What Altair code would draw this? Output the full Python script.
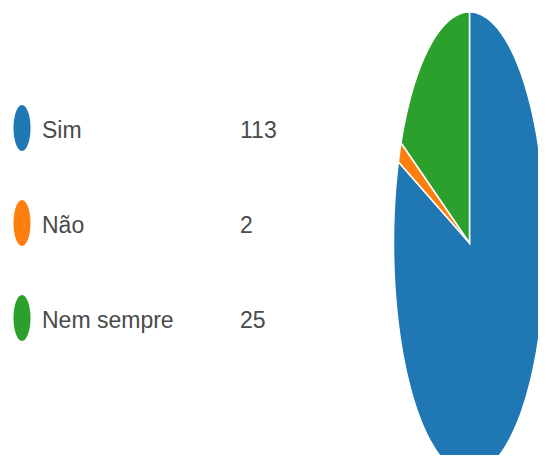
import altair as alt
import numpy as np
import pandas as pd

# ---- data ----
cats = ["Sim", "Não", "Nem sempre"]
vals = [113, 2, 25]
colors = ["#1f77b4", "#ff7f0e", "#2ca02c"]

# ---- pie slices as polygons (the picture is a horizontally squeezed pie) ----
total = float(sum(vals))
rows = []
start = 0.0
for c, v in zip(cats, vals):
    a0 = start / total * 2 * np.pi
    a1 = (start + v) / total * 2 * np.pi
    n = max(3, int(np.degrees(a1 - a0))) + 1
    rows.append(dict(cat=c, i=0, x=0.0, y=0.0))
    for k, t in enumerate(np.linspace(a0, a1, n)):
        rows.append(dict(cat=c, i=k + 1, x=float(np.sin(t)), y=float(np.cos(t))))
    start += v
pie_df = pd.DataFrame(rows)

leg_df = pd.DataFrame({"cat": cats, "val": [str(v) for v in vals]})

color_scale = alt.Scale(domain=cats, range=colors)
FONT = "Liberation Sans Narrow, Liberation Sans, Arial, sans-serif"

pie = alt.Chart(pie_df).mark_line(
    interpolate="linear-closed", filled=True, stroke="white", strokeWidth=1.5
).encode(
    x=alt.X("x:Q", scale=alt.Scale(domain=[-1, 1], range=[385.5, 537.5], nice=False, zero=False), axis=None),
    y=alt.Y("y:Q", scale=alt.Scale(domain=[-1, 1], range=[466, 4], nice=False, zero=False), axis=None),
    color=alt.Color("cat:N", scale=color_scale, legend=None),
    order="i:Q",
)

ypos = alt.Y("cat:N", scale=alt.Scale(domain=cats, range=[120, 310], padding=0), axis=None)

ellipse = "M0,-1A0.37,1 0 1,1 0,1A0.37,1 0 1,1 0,-1Z"
markers = alt.Chart(leg_df).mark_point(
    shape=ellipse, size=46 * 46, filled=True, opacity=1, strokeWidth=0
).encode(
    x=alt.value(14),
    y=ypos,
    color=alt.Color("cat:N", scale=color_scale, legend=None),
)

labels = alt.Chart(leg_df).mark_text(
    align="left", baseline="middle", font=FONT, fontSize=23, color="#4a4a4a", dy=3
).encode(x=alt.value(34), y=ypos, text="cat:N")

values = alt.Chart(leg_df).mark_text(
    align="left", baseline="middle", font=FONT, fontSize=23, color="#4a4a4a", dy=3
).encode(x=alt.value(232), y=ypos, text="val:N")

chart = alt.layer(pie, markers, labels, values).resolve_scale(
    y="independent"
).properties(
    width=530, height=447, padding=0,
    autosize=alt.AutoSizeParams(type="none"),
).configure_view(strokeWidth=0)

chart.save("out.html", embed_options={"renderer": "svg", "actions": False})
